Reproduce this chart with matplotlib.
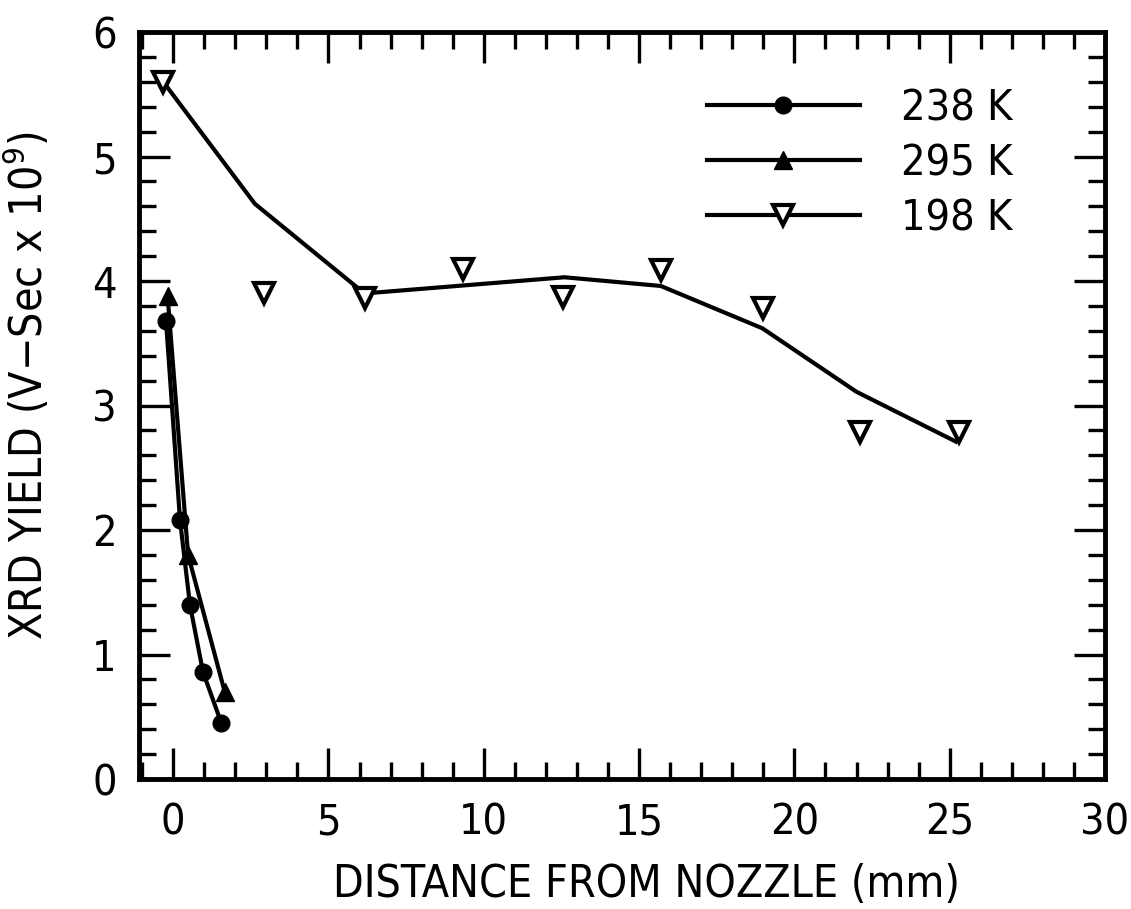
import matplotlib
matplotlib.use('Agg')
import matplotlib.pyplot as plt
from matplotlib.lines import Line2D
from matplotlib.ticker import MultipleLocator

plt.rcParams['font.family'] = ['DejaVu Sans']
plt.rcParams['font.stretch'] = 'condensed'
plt.rcParams['mathtext.default'] = 'regular'

# 238 K (filled circles)
x_238 = [-0.23, 0.22, 0.54, 0.96, 1.55]
y_238 = [3.68, 2.08, 1.40, 0.86, 0.45]

# 295 K (filled triangles)
x_295 = [-0.18, 0.48, 1.66]
y_295 = [3.88, 1.80, 0.70]

# 198 K (open triangles) and the hand drawn curve through them
x_198 = [-0.32, 2.93, 6.19, 9.32, 12.54, 15.7, 19.0, 22.1, 25.3]
y_198 = [5.60, 3.90, 3.86, 4.10, 3.87, 4.09, 3.78, 2.79, 2.79]
x_198_curve = [-0.32, 2.63, 6.16, 12.6, 15.7, 18.97, 22.0, 25.2]
y_198_curve = [5.60, 4.62, 3.90, 4.03, 3.96, 3.62, 3.11, 2.71]

labels = ['238 K', '295 K', '198 K']
xticks = [0, 5, 10, 15, 20, 25, 30]
yticks = [0, 1, 2, 3, 4, 5, 6]

fig = plt.figure(figsize=(11.31, 9.09), dpi=100)
ax = fig.add_axes([139 / 1131, 1 - 779 / 909, (1105 - 139) / 1131, (779 - 32) / 909])

# curvas
ax.plot(x_238, y_238, color='k', lw=3, marker='o', ms=12)
ax.plot(x_295, y_295, color='k', lw=3, marker='^', ms=13)
ax.plot(x_198_curve, y_198_curve, color='k', lw=3)
ax.plot(x_198, y_198, ls='none', marker='v', ms=15, mfc='white', mec='k', mew=3)

# ejes
ax.set_xlim(-1.1, 30)
ax.set_ylim(0, 6)
ax.set_xticks(xticks)
ax.set_yticks(yticks)
ax.set_xticklabels([str(t) for t in xticks])
ax.set_yticklabels([str(t) for t in yticks])
ax.xaxis.set_minor_locator(MultipleLocator(1))
ax.yaxis.set_minor_locator(MultipleLocator(0.2))
ax.tick_params(which='both', direction='in', top=True, right=True, width=2.4, labelsize=31)
ax.tick_params(which='major', length=22, pad=16)
ax.tick_params(which='minor', length=12)
for s in ax.spines.values():
    s.set_linewidth(3.5)

ax.set_xlabel('DISTANCE FROM NOZZLE (mm)', fontsize=32)
ax.xaxis.set_label_coords(0.525, -0.112)
ax.set_ylabel('XRD YIELD (V$-$Sec x 10$^{9}$)', fontsize=32)
ax.yaxis.set_label_coords(-0.09, 0.527)

# leyenda
handles = [
    Line2D([], [], color='k', lw=3, marker='o', ms=12),
    Line2D([], [], color='k', lw=3, marker='^', ms=13),
    Line2D([], [], color='k', lw=3, marker='v', ms=15, mfc='white', mec='k', mew=3),
]
ax.legend(handles, labels, loc='upper left', bbox_to_anchor=(0.588, 0.926), frameon=False,
          handlelength=3.55, handletextpad=0.95, labelspacing=0.3, borderpad=0,
          borderaxespad=0, fontsize=31, numpoints=1)

fig.savefig('out.png', dpi=100)
